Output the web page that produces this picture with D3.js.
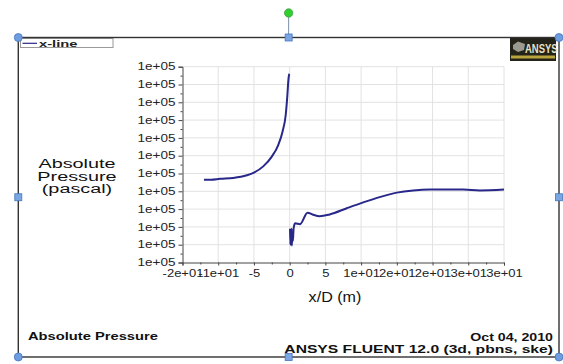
<!DOCTYPE html>
<html>
<head>
<meta charset="utf-8">
<script src="https://cdn.jsdelivr.net/npm/d3@7"></script>
<style>
  html, body { margin: 0; padding: 0; background: #fff; overflow: hidden; }
  text { font-family: "Liberation Sans", Arial, sans-serif; }
</style>
</head>
<body>
<svg id="chart" width="563" height="364"></svg>
<script>
// Axis ticks
const xTicks = [-15, -10, -5, 0, 5, 10, 15, 20, 25, 30];
const yTicks = [101300, 101320, 101340, 101360, 101380, 101400, 101420, 101440, 101460, 101480, 101500, 101520];

// Absolute pressure along x-line, upstream of the step (x/D < 0)
const upstreamX = [-12.0, -11.0, -9.75, -7.9, -6.0, -5.0, -3.7, -2.5, -1.6, -1.0, -0.55, -0.32, -0.18, -0.08, -0.02];
const upstreamP = [101393, 101393, 101394, 101395, 101398, 101401, 101408, 101419, 101432, 101447, 101466, 101488, 101505, 101511, 101512];

// Absolute pressure downstream of the step (x/D > 0)
const downstreamX = [0.05, 0.1, 0.15, 0.2, 0.25, 0.3, 0.38, 0.45, 0.55, 0.75, 1.45, 2.5, 3.2, 4.2, 5.6, 8.0, 10.3, 12.6, 15.0, 17.3, 19.6, 22.0, 24.3, 26.6, 30.0];
const downstreamP = [101338, 101320, 101337, 101321, 101338, 101319, 101332, 101324, 101338, 101344, 101343, 101356, 101354, 101352, 101354, 101361, 101367.5, 101373.5, 101378.5, 101381, 101382, 101382, 101382, 101381, 101382];

const svg = d3.select("#chart");

const plot = { left: 182.5, right: 504, top: 66.7, bottom: 262.5 };
const x = d3.scaleLinear().domain([-15, 30]).range([plot.left, plot.right]);
const y = d3.scaleLinear().domain([101300, 101520]).range([plot.bottom, plot.top]);

// C-style exponent formatting: 1e+05, -2e+01
const cExp = v => v.toExponential(0).replace(/e([+-])(\d)$/, "e$10$2");
const fmtX = v => (Math.abs(v) < 10 ? String(v) : cExp(v));
const fmtY = v => cExp(v);

// widen text horizontally by factor k
function stretch(sel, k) {
  sel.each(function () {
    const w = this.getComputedTextLength();
    d3.select(this).attr("textLength", w * k).attr("lengthAdjust", "spacingAndGlyphs");
  });
  return sel;
}

// grid
const grid = svg.append("g").attr("stroke", "#e2e2e2").attr("stroke-width", 1);
grid.selectAll("line.v").data(xTicks.slice(1)).join("line")
  .attr("x1", d => x(d)).attr("x2", d => x(d))
  .attr("y1", plot.top).attr("y2", plot.bottom);
grid.selectAll("line.h").data(yTicks.slice(1)).join("line")
  .attr("x1", plot.left).attr("x2", plot.right)
  .attr("y1", d => y(d)).attr("y2", d => y(d));

// x axis
const xMinor = d3.range(-12.5, 30, 5);
const xAxis = svg.append("g").attr("transform", `translate(0,${plot.bottom})`)
  .call(d3.axisBottom(x).tickValues(xTicks).tickFormat(fmtX).tickSize(3).tickPadding(4));
svg.append("g").attr("transform", `translate(0,${plot.bottom})`)
  .call(d3.axisBottom(x).tickValues(xMinor).tickFormat("").tickSize(2))
  .call(g => g.select(".domain").remove());

// y axis
const yMinor = d3.range(101310, 101520, 20);
const yAxis = svg.append("g").attr("transform", `translate(${plot.left},0)`)
  .call(d3.axisLeft(y).tickValues(yTicks).tickFormat(fmtY).tickSize(4).tickPadding(3));
svg.append("g").attr("transform", `translate(${plot.left},0)`)
  .call(d3.axisLeft(y).tickValues(yMinor).tickFormat("").tickSize(2))
  .call(g => g.select(".domain").remove());

svg.selectAll(".domain, .tick line").attr("stroke", "#444").attr("stroke-width", 1);
xAxis.selectAll("text").attr("font-size", 10).attr("fill", "#222").call(stretch, 1.3);
yAxis.selectAll("text").attr("font-size", 10).attr("fill", "#222").call(stretch, 1.35);

// curves
const line = d3.line().x(d => x(d[0])).y(d => y(d[1])).curve(d3.curveMonotoneX);
const curveStyle = p => p.attr("fill", "none").attr("stroke", "#28288a")
  .attr("stroke-width", 2).attr("stroke-linejoin", "round");
svg.append("path").datum(d3.zip(upstreamX, upstreamP)).attr("d", line).call(curveStyle);
svg.append("path").datum(d3.zip(downstreamX, downstreamP)).attr("d", line).call(curveStyle);

// axis titles
const yTitle = svg.append("text").attr("text-anchor", "middle").attr("font-size", 12).attr("fill", "#111");
["Absolute", "Pressure", "(pascal)"].forEach((s, i) =>
  yTitle.append("tspan").attr("x", 77).attr("y", 168 + i * 12.5).text(s));
yTitle.selectAll("tspan").call(stretch, 1.65);

svg.append("text").attr("x", 335).attr("y", 302).attr("text-anchor", "middle")
  .attr("font-size", 14).attr("fill", "#111").text("x/D (m)").call(stretch, 1.15);

// footer
svg.append("text").attr("x", 28).attr("y", 340).attr("font-size", 10.5).attr("font-weight", "bold")
  .attr("fill", "#111").text("Absolute Pressure").call(stretch, 1.4);
svg.append("text").attr("x", 553).attr("y", 341).attr("text-anchor", "end").attr("font-size", 10.5)
  .attr("font-weight", "bold").attr("fill", "#111").text("Oct 04, 2010").call(stretch, 1.35);
svg.append("text").attr("x", 553).attr("y", 353).attr("text-anchor", "end").attr("font-size", 10.5)
  .attr("font-weight", "bold").attr("fill", "#111").text("ANSYS FLUENT 12.0 (3d, pbns, ske)").call(stretch, 1.49);

// legend
const legend = svg.append("g");
legend.append("rect").attr("x", 20.5).attr("y", 38.5).attr("width", 92.5).attr("height", 9)
  .attr("fill", "#fff").attr("stroke", "#999").attr("stroke-width", 1);
legend.append("line").attr("x1", 22.5).attr("x2", 37).attr("y1", 43.3).attr("y2", 43.3)
  .attr("stroke", "#28288a").attr("stroke-width", 1.2);
legend.append("text").attr("x", 39).attr("y", 46.8).attr("font-size", 9.5).attr("font-weight", "bold")
  .attr("fill", "#222").text("x-line").call(stretch, 1.55);

// logo
const logo = svg.append("g");
logo.append("rect").attr("x", 510).attr("y", 37).attr("width", 46).attr("height", 24).attr("fill", "#23231a");
logo.append("path").attr("d", "M513,45 L518,41.5 L525,44 L524,50 L518,52 L513,49 Z").attr("fill", "#9a9a90");
logo.append("text").attr("font-size", 9.5).attr("font-weight", "bold")
  .attr("transform", "translate(525,52.5) scale(1,1.35)")
  .attr("fill", "#e8e2c8").text("ANSYS");
logo.append("rect").attr("x", 511).attr("y", 55.5).attr("width", 44).attr("height", 3).attr("fill", "#b9a53c");

// picture frame with selection handles
const frame = { l: 18.3, r: 559, t: 37.5, b: 357 };
svg.append("rect").attr("x", frame.l).attr("y", frame.t)
  .attr("width", frame.r - frame.l).attr("height", frame.b - frame.t)
  .attr("fill", "none").attr("stroke", "#333").attr("stroke-width", 1.4);
const midX = (frame.l + frame.r) / 2, midY = (frame.t + frame.b) / 2;
svg.append("line").attr("x1", midX).attr("x2", midX).attr("y1", 17).attr("y2", frame.t)
  .attr("stroke", "#7a8ea8").attr("stroke-width", 1);
svg.append("circle").attr("cx", midX).attr("cy", 13).attr("r", 4.2)
  .attr("fill", "#2fcf2f").attr("stroke", "#4a9a4a").attr("stroke-width", 0.8);
[[frame.l, frame.t], [frame.r, frame.t], [frame.l, frame.b], [frame.r, frame.b]].forEach(([cx, cy]) =>
  svg.append("circle").attr("cx", cx).attr("cy", cy).attr("r", 4)
    .attr("fill", "#6e9de0").attr("stroke", "#4676bd").attr("stroke-width", 0.8));
[[midX, frame.t], [midX, frame.b], [frame.l, midY], [frame.r, midY]].forEach(([cx, cy]) =>
  svg.append("rect").attr("x", cx - 3.5).attr("y", cy - 3.5).attr("width", 7).attr("height", 7)
    .attr("fill", "#7aa6e3").attr("stroke", "#4676bd").attr("stroke-width", 0.8));
</script>
</body>
</html>
